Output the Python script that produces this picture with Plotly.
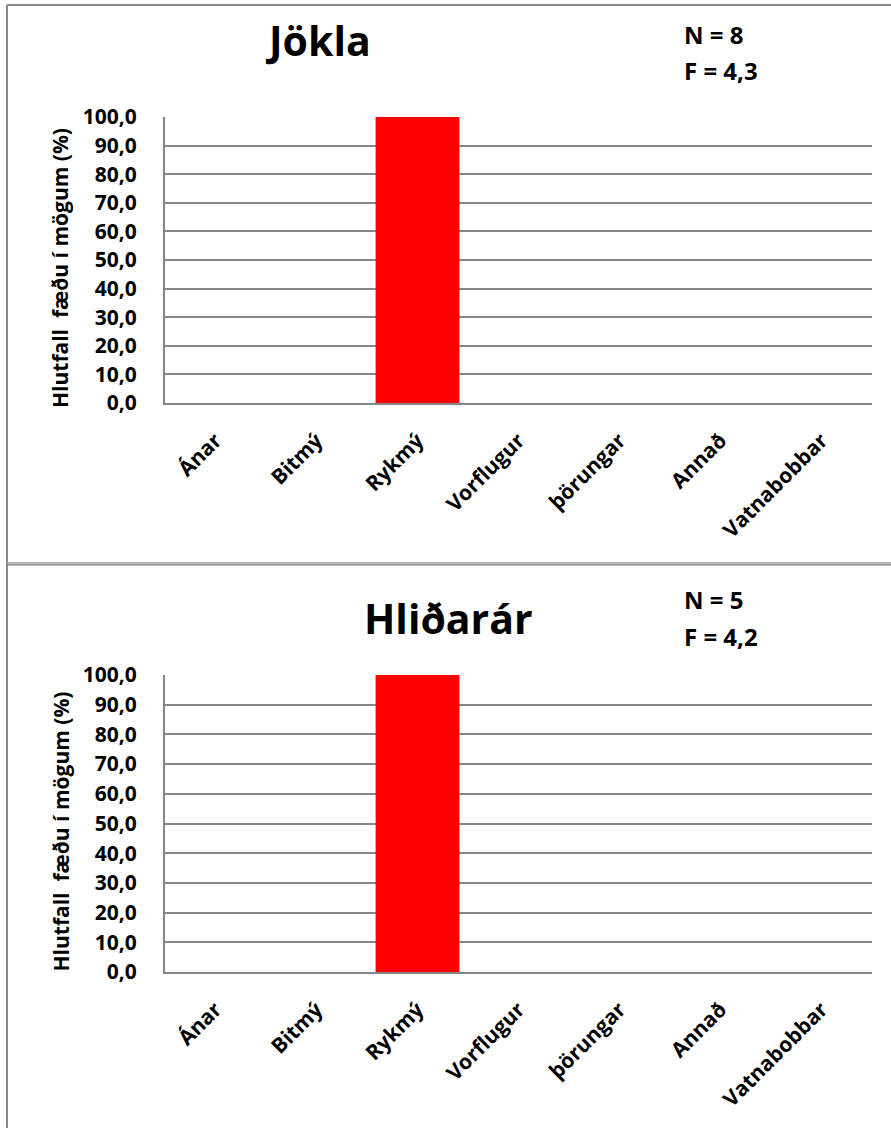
import plotly.graph_objects as go

W, H = 891, 1128

categories = ["Ánar", "Bitmý", "Rykmý", "Vorflugur", "þörungar", "Annað", "Vatnabobbar"]
jokla_values = [0, 0, 100, 0, 0, 0, 0]
hlidarar_values = [0, 0, 100, 0, 0, 0, 0]
y_tickvals = [0, 10, 20, 30, 40, 50, 60, 70, 80, 90, 100]
y_ticktext = ["0,0", "10,0", "20,0", "30,0", "40,0", "50,0", "60,0", "70,0", "80,0", "90,0", "100,0"]
titles = ["Jökla", "Hliðarár"]
n_texts = ["N = 8", "N = 5"]
f_texts = ["F = 4,3", "F = 4,2"]
y_title = "Hlutfall  fæðu í mögum (%)"

FONT = "Open Sans"
GRID = "#868686"
BAR = "#FF0000"


def px_x(x):
    return x / W


def px_y(y):
    return 1 - y / H


fig = go.Figure()
fig.add_trace(go.Bar(x=categories, y=jokla_values, marker=dict(color=BAR, line=dict(width=0)),
                     xaxis="x", yaxis="y", showlegend=False, hoverinfo="skip"))
fig.add_trace(go.Bar(x=categories, y=hlidarar_values, marker=dict(color=BAR, line=dict(width=0)),
                     xaxis="x2", yaxis="y2", showlegend=False, hoverinfo="skip"))

xdom = [px_x(165), px_x(872)]
panels = [
    dict(top=117, bottom=403),
    dict(top=675, bottom=972),
]

xaxis_common = dict(
    domain=xdom, type="category", showgrid=False, showline=True, linecolor=GRID, linewidth=2,
    tickangle=-45, ticks="", ticklabelstandoff=15, automargin=False,
    tickfont=dict(family=FONT, size=21, color="black", weight="bold"),
    fixedrange=True,
)
yaxis_common = dict(
    range=[0, 100], tickvals=y_tickvals, ticktext=y_ticktext, showgrid=True, gridcolor=GRID,
    gridwidth=2, showline=True, linecolor=GRID, linewidth=2, zeroline=False, ticks="",
    ticklabelstandoff=22, automargin=False,
    tickfont=dict(family=FONT, size=21, color="black", weight="bold"),
    fixedrange=True,
)

fig.update_layout(
    width=W, height=H, autosize=False,
    margin=dict(l=0, r=0, t=0, b=0, pad=0),
    paper_bgcolor="white", plot_bgcolor="white",
    bargap=0.17,
    xaxis=dict(**xaxis_common, anchor="y"),
    yaxis=dict(**yaxis_common, anchor="x",
               domain=[px_y(panels[0]["bottom"]), px_y(panels[0]["top"])]),
    xaxis2=dict(**xaxis_common, anchor="y2"),
    yaxis2=dict(**yaxis_common, anchor="x2",
                domain=[px_y(panels[1]["bottom"]), px_y(panels[1]["top"])]),
)

annotations = []
title_pos = [(318, 40), (448, 618)]
nf_pos = [((682, 34), (682, 70)), ((682, 599), (682, 636))]
for i in range(2):
    tx, ty = title_pos[i]
    annotations.append(dict(text=titles[i], x=px_x(tx), y=px_y(ty), xref="paper", yref="paper",
                            xanchor="center", yanchor="middle", showarrow=False,
                            font=dict(family=FONT, size=41, color="black", weight="bold")))
    (nx, ny), (fx, fy) = nf_pos[i]
    annotations.append(dict(text=n_texts[i], x=px_x(nx), y=px_y(ny), xref="paper", yref="paper",
                            xanchor="left", yanchor="middle", showarrow=False,
                            font=dict(family=FONT, size=24, color="black", weight="bold")))
    annotations.append(dict(text=f_texts[i], x=px_x(fx), y=px_y(fy), xref="paper", yref="paper",
                            xanchor="left", yanchor="middle", showarrow=False,
                            font=dict(family=FONT, size=24, color="black", weight="bold")))
    cy = (panels[i]["top"] + panels[i]["bottom"]) / 2 + 8
    annotations.append(dict(text=y_title, x=px_x(60), y=px_y(cy), xref="paper", yref="paper",
                            xanchor="center", yanchor="middle", showarrow=False, textangle=-90,
                            font=dict(family=FONT, size=21, color="black", weight="bold")))
fig.update_layout(annotations=annotations)

# panel borders
BORDER = "#8a8a8a"
shapes = [
    dict(type="line", xref="paper", yref="paper", x0=px_x(7), x1=1, y0=px_y(5), y1=px_y(5),
         line=dict(color=BORDER, width=2)),
    dict(type="line", xref="paper", yref="paper", x0=px_x(7), x1=px_x(7), y0=px_y(5), y1=0,
         line=dict(color=BORDER, width=2)),
    dict(type="line", xref="paper", yref="paper", x0=px_x(7), x1=1, y0=px_y(562.5), y1=px_y(562.5),
         line=dict(color="#b0b0b0", width=1)),
    dict(type="line", xref="paper", yref="paper", x0=px_x(7), x1=1, y0=px_y(564.5), y1=px_y(564.5),
         line=dict(color="#8a8a8a", width=2)),
]
fig.update_layout(shapes=shapes)

fig.write_html(
    "out.html",
    config=dict(displayModeBar=False),
    post_script="document.body.style.margin='0';document.body.style.overflow='hidden';",
)
